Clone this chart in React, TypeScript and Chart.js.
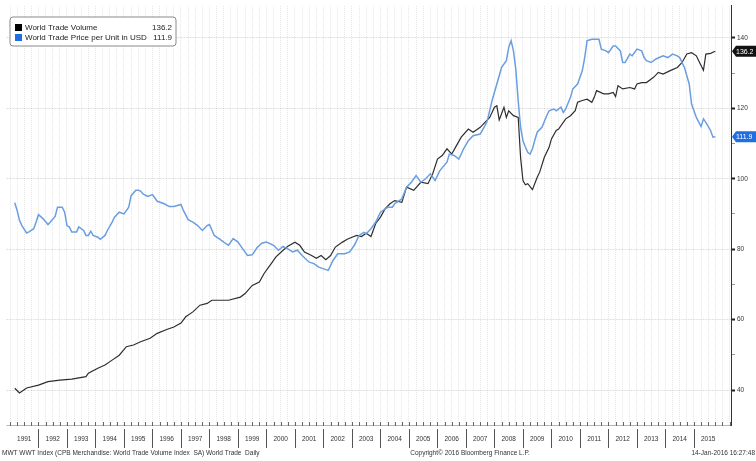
import React, { useEffect, useRef } from 'react';
import { Chart, registerables } from 'chart.js';

Chart.register(...registerables);

// ---- Data ----
const volumeDates = [
  '1991-03','1991-05','1991-08','1992-01','1992-05','1992-10','1993-03','1993-09','1993-10','1994-02',
  '1994-05','1994-08','1994-11','1995-02','1995-05','1995-08','1995-12','1996-03','1996-07','1996-10',
  '1997-01','1997-03','1997-06','1997-09','1997-12','1998-02','1998-07','1998-09','1999-02','1999-04',
  '1999-07','1999-10','1999-12','2000-03','2000-05','2000-08','2000-10','2001-01','2001-03','2001-05',
  '2001-08','2001-10','2001-12','2002-02','2002-04','2002-06','2002-09','2002-11','2003-01','2003-03',
  '2003-05','2003-07','2003-09','2003-11','2004-01','2004-03','2004-05','2004-07','2004-10','2004-12',
  '2005-03','2005-06','2005-09','2005-11','2006-01','2006-03','2006-05','2006-07','2006-09','2006-11',
  '2007-02','2007-04','2007-07','2007-09','2007-11','2008-01','2008-02','2008-03','2008-05','2008-06',
  '2008-07','2008-09','2008-11','2008-12','2009-01','2009-02','2009-03','2009-05','2009-07','2009-08',
  '2009-10','2009-12','2010-01','2010-03','2010-04','2010-07','2010-09','2010-11','2010-12','2011-02',
  '2011-04','2011-06','2011-07','2011-08','2011-11','2012-01','2012-03','2012-04','2012-05','2012-07',
  '2012-10','2012-12','2013-01','2013-03','2013-05','2013-08','2013-10','2013-12','2014-03','2014-06',
  '2014-08','2014-10','2014-12','2015-02','2015-03','2015-05','2015-06','2015-08','2015-09','2015-10',
];
const volumeValues = [
  40.5, 39.2, 40.6, 41.4, 42.4, 42.8, 43.1, 43.8, 44.8, 46.2,
  47.1, 48.5, 49.9, 52.3, 52.8, 53.7, 54.7, 56.1, 57.2, 57.9,
  59.0, 60.8, 62.2, 64.1, 64.6, 65.5, 65.5, 65.5, 66.4, 67.4,
  69.7, 70.7, 73.1, 75.9, 77.8, 79.7, 80.8, 82.0, 81.1, 79.2,
  78.2, 77.4, 78.2, 77.0, 78.2, 80.6, 82.0, 82.8, 83.4, 83.9,
  83.6, 84.5, 83.6, 87.3, 89.1, 91.5, 92.9, 93.8, 93.3, 97.6,
  96.7, 99.0, 98.6, 101.4, 105.6, 106.6, 108.5, 107.0, 109.4, 111.8,
  114.1, 113.2, 114.6, 116.0, 117.4, 120.3, 120.7, 116.7, 120.3, 117.4,
  119.3, 117.9, 117.4, 106.0, 99.5, 98.3, 98.6, 96.9, 100.4, 101.8,
  106.1, 108.9, 111.3, 113.7, 114.1, 117.0, 117.9, 119.3, 121.7, 122.2,
  122.6, 121.7, 123.1, 125.0, 124.1, 124.1, 124.5, 123.3, 126.4, 125.5,
  125.9, 125.5, 126.9, 127.3, 127.3, 128.8, 130.2, 129.7, 130.7, 131.6,
  133.0, 135.4, 135.8, 134.9, 133.5, 130.8, 135.4, 135.6, 135.9, 136.2,
];

const priceDates = [
  '1991-03','1991-04','1991-05','1991-06','1991-08','1991-09','1991-11','1991-12','1992-01','1992-03',
  '1992-05','1992-06','1992-08','1992-09','1992-11','1992-12','1993-01','1993-02','1993-03','1993-05',
  '1993-06','1993-08','1993-09','1993-10','1993-11','1993-12','1994-02','1994-03','1994-05','1994-06',
  '1994-08','1994-09','1994-11','1995-01','1995-03','1995-04','1995-06','1995-07','1995-08','1995-09',
  '1995-11','1996-01','1996-03','1996-06','1996-08','1996-10','1997-01','1997-02','1997-04','1997-06',
  '1997-08','1997-10','1997-12','1998-01','1998-03','1998-05','1998-07','1998-09','1998-11','1999-01',
  '1999-03','1999-05','1999-07','1999-09','1999-11','2000-01','2000-04','2000-06','2000-08','2000-10',
  '2000-12','2001-02','2001-04','2001-07','2001-09','2001-11','2002-02','2002-03','2002-05','2002-07',
  '2002-10','2002-12','2003-02','2003-04','2003-06','2003-07','2003-09','2003-11','2004-01','2004-04',
  '2004-06','2004-07','2004-10','2004-12','2005-02','2005-04','2005-06','2005-08','2005-10','2005-12',
  '2006-02','2006-05','2006-06','2006-08','2006-10','2006-12','2007-02','2007-04','2007-07','2007-09',
  '2007-10','2007-12','2008-02','2008-04','2008-06','2008-07','2008-08','2008-09','2008-10','2008-11',
  '2008-12','2009-01','2009-02','2009-03','2009-04','2009-05','2009-06','2009-07','2009-09','2009-11',
  '2009-12','2010-02','2010-03','2010-05','2010-06','2010-07','2010-09','2010-10','2010-12','2011-02',
  '2011-03','2011-04','2011-06','2011-09','2011-10','2011-12','2012-01','2012-03','2012-04','2012-06',
  '2012-07','2012-08','2012-10','2012-11','2013-01','2013-03','2013-04','2013-05','2013-07','2013-09',
  '2013-12','2014-02','2014-04','2014-06','2014-07','2014-09','2014-11','2014-12','2015-02','2015-04',
  '2015-05','2015-06','2015-08','2015-09','2015-10',
];
const priceValues = [
  93.2, 91.0, 88.2, 86.7, 84.6, 84.9, 85.8, 87.7, 89.8, 88.6,
  87.0, 87.7, 89.3, 91.9, 91.9, 90.5, 86.7, 86.3, 84.9, 84.9,
  86.3, 85.3, 83.9, 83.9, 85.1, 83.9, 83.4, 82.8, 83.9, 85.3,
  87.7, 89.1, 90.5, 90.0, 91.9, 95.2, 96.7, 96.7, 96.5, 95.7,
  95.0, 95.5, 93.6, 92.9, 92.1, 92.1, 92.7, 91.0, 88.4, 87.7,
  86.7, 85.3, 86.7, 87.0, 83.9, 83.0, 82.0, 81.1, 83.0, 82.0,
  80.1, 78.2, 78.4, 80.4, 81.7, 82.0, 81.1, 79.7, 80.8, 80.1,
  79.2, 79.7, 78.2, 76.3, 75.9, 74.9, 74.2, 74.0, 76.8, 78.7,
  78.7, 79.2, 81.1, 83.9, 84.8, 84.4, 85.8, 87.7, 90.5, 91.9,
  91.9, 92.9, 94.3, 97.6, 99.0, 100.9, 99.0, 100.0, 101.4, 99.5,
  102.3, 104.7, 107.0, 106.6, 105.6, 108.5, 110.8, 112.2, 112.7, 115.1,
  116.5, 122.2, 126.9, 131.6, 133.5, 137.3, 139.2, 136.3, 131.0, 122.0,
  114.6, 110.8, 109.0, 107.5, 107.0, 108.5, 111.0, 113.2, 114.6, 117.9,
  119.3, 119.8, 119.3, 120.3, 118.8, 119.8, 123.1, 125.5, 126.9, 130.7,
  134.4, 139.2, 139.6, 139.6, 136.8, 136.3, 135.8, 137.7, 137.7, 136.3,
  133.0, 133.0, 135.4, 134.9, 136.8, 136.3, 134.4, 133.5, 133.0, 134.0,
  134.9, 134.4, 135.4, 134.9, 134.4, 131.6, 126.9, 121.2, 117.4, 114.8,
  117.0, 116.0, 113.7, 111.8, 111.9,
];

const yearLabels = [
  '1991','1992','1993','1994','1995','1996','1997','1998','1999','2000','2001','2002','2003',
  '2004','2005','2006','2007','2008','2009','2010','2011','2012','2013','2014','2015',
];
const yTickValues = [40, 50, 60, 70, 80, 90, 100, 110, 120, 130, 140];
const seriesNames = ['World Trade Volume', 'World Trade Price per Unit in USD'];
const footerLeft = 'MWT WWT Index (CPB Merchandise: World Trade Volume Index  SA) World Trade  Daily';
const footerCenter = 'Copyright\u00a9 2016 Bloomberg Finance L.P.';
const footerRight = '14-Jan-2016 16:27:48';

// ---- Styling ----
const VOLUME_LINE = '#2e2e2e';
const PRICE_LINE = '#6a9ee0';
const VOLUME_SWATCH = '#000000';
const PRICE_SWATCH = '#1f6fe3';
const X_MIN = 1990.875;
const X_MAX = 2016.3;
const Y_MIN = 30.08;
const Y_MAX = 149.07;

function toYear(d: string): number {
  const [y, m] = d.split('-').map(Number);
  return y + (m - 1) / 12;
}

export default function App() {
  const ref = useRef<HTMLCanvasElement>(null);

  useEffect(() => {
    const canvas = ref.current;
    if (!canvas) return;

    const probe = document.createElement('canvas').getContext('2d')!;
    probe.font = '20px monospace';
    const w0 = probe.measureText('World Trade 1991').width;
    probe.font = '20px "Liberation Sans Narrow", monospace';
    const w1 = probe.measureText('World Trade 1991').width;
    const hasNarrow = Math.abs(w0 - w1) > 0.5;
    const smallFamily = hasNarrow ? '"Liberation Sans Narrow", "Liberation Sans", sans-serif' : '"Liberation Sans", sans-serif';
    const smallSize = hasNarrow ? 7.5 : 6.5;
    const smallFont = `${smallSize}px ${smallFamily}`;

    const volumeData = volumeDates.map((d, i) => ({ x: toYear(d), y: volumeValues[i] }));
    const priceData = priceDates.map((d, i) => ({ x: toYear(d), y: priceValues[i] }));
    const lastVolume = volumeValues[volumeValues.length - 1];
    const lastPrice = priceValues[priceValues.length - 1];

    const decor = {
      id: 'decor',
      afterDraw(chart: any) {
        const { ctx, chartArea: ca, scales } = chart;
        const xs = scales.x;
        const ys = scales.y;
        ctx.save();

        // bottom axis line + quarterly tick marks
        ctx.strokeStyle = '#b5b5b5';
        ctx.lineWidth = 1;
        ctx.beginPath();
        ctx.moveTo(ca.left, ca.bottom + 0.5);
        ctx.lineTo(ca.right, ca.bottom + 0.5);
        ctx.stroke();
        ctx.strokeStyle = '#666';
        ctx.beginPath();
        for (let q = 0; q <= 101; q++) {
          const v = 1991 + q / 4;
          if (v > X_MAX) break;
          const px = Math.round(xs.getPixelForValue(v)) + 0.5;
          ctx.moveTo(px, ca.bottom - 3);
          ctx.lineTo(px, ca.bottom + 1);
        }
        ctx.stroke();

        // year separators
        ctx.strokeStyle = '#555';
        ctx.beginPath();
        for (let i = 1; i < yearLabels.length; i++) {
          const px = Math.round(xs.getPixelForValue(1991 + i)) + 0.5;
          ctx.moveTo(px, ca.bottom + 4);
          ctx.lineTo(px, ca.bottom + 23);
        }
        ctx.stroke();

        // legend box
        const lx = 10, ly = 17, lw = 166, lh = 29, r = 3;
        ctx.beginPath();
        ctx.moveTo(lx + r, ly);
        ctx.lineTo(lx + lw - r, ly);
        ctx.quadraticCurveTo(lx + lw, ly, lx + lw, ly + r);
        ctx.lineTo(lx + lw, ly + lh - r);
        ctx.quadraticCurveTo(lx + lw, ly + lh, lx + lw - r, ly + lh);
        ctx.lineTo(lx + r, ly + lh);
        ctx.quadraticCurveTo(lx, ly + lh, lx, ly + lh - r);
        ctx.lineTo(lx, ly + r);
        ctx.quadraticCurveTo(lx, ly, lx + r, ly);
        ctx.closePath();
        ctx.fillStyle = '#ffffff';
        ctx.fill();
        ctx.strokeStyle = '#8a8a8a';
        ctx.lineWidth = 1;
        ctx.stroke();

        const rows = [
          { name: seriesNames[0], value: lastVolume.toFixed(1), color: VOLUME_SWATCH, y: 27.5 },
          { name: seriesNames[1], value: lastPrice.toFixed(1), color: PRICE_SWATCH, y: 37.5 },
        ];
        ctx.font = '8px "Liberation Sans", sans-serif';
        ctx.textBaseline = 'middle';
        rows.forEach((row) => {
          ctx.fillStyle = row.color;
          ctx.fillRect(15, row.y - 3.5, 7, 7);
          ctx.fillStyle = '#222';
          ctx.textAlign = 'left';
          ctx.fillText(row.name, 25, row.y);
          ctx.textAlign = 'right';
          ctx.fillText(row.value, 172, row.y);
        });

        // last-value tags on the right axis
        const tags = [
          { value: lastVolume, bg: '#111111' },
          { value: lastPrice, bg: PRICE_SWATCH },
        ];
        ctx.font = `${smallSize + 0.5}px ${smallFamily}`;
        tags.forEach((t) => {
          const cy = ys.getPixelForValue(t.value);
          const h = 11;
          ctx.beginPath();
          ctx.moveTo(ca.right + 1, cy);
          ctx.lineTo(ca.right + 5, cy - h / 2);
          ctx.lineTo(756, cy - h / 2);
          ctx.lineTo(756, cy + h / 2);
          ctx.lineTo(ca.right + 5, cy + h / 2);
          ctx.closePath();
          ctx.fillStyle = t.bg;
          ctx.fill();
          ctx.fillStyle = '#ffffff';
          ctx.textAlign = 'left';
          ctx.textBaseline = 'middle';
          ctx.fillText(t.value.toFixed(1), ca.right + 5, cy + 0.5);
        });

        // footer
        ctx.fillStyle = '#333';
        ctx.font = smallFont;
        ctx.textBaseline = 'middle';
        ctx.textAlign = 'left';
        ctx.fillText(footerLeft, 2, 453);
        ctx.textAlign = 'center';
        ctx.fillText(footerCenter, 470, 453);
        ctx.textAlign = 'right';
        ctx.fillText(footerRight, 755, 453);

        ctx.restore();
      },
    };

    const chart = new Chart(canvas, {
      type: 'line',
      data: {
        datasets: [
          {
            label: seriesNames[1],
            data: priceData,
            borderColor: PRICE_LINE,
            borderWidth: 1.5,
            pointRadius: 0,
            tension: 0,
            fill: false,
          },
          {
            label: seriesNames[0],
            data: volumeData,
            borderColor: VOLUME_LINE,
            borderWidth: 1.2,
            pointRadius: 0,
            tension: 0,
            fill: false,
          },
        ],
      },
      options: {
        responsive: false,
        animation: false,
        events: [],
        layout: { padding: 0 },
        plugins: {
          legend: { display: false },
          tooltip: { enabled: false },
          title: { display: false },
        },
        scales: {
          x: {
            type: 'linear',
            position: 'bottom',
            min: X_MIN,
            max: X_MAX,
            afterBuildTicks: (s: any) => {
              const t: any[] = [];
              for (let q = 0; q <= 101; q++) {
                const v = 1991 + q / 4;
                if (v <= X_MAX) t.push({ value: v });
              }
              s.ticks = t;
            },
            afterFit: (s: any) => {
              s.height = 36;
            },
            grid: {
              color: 'rgba(0,0,0,0.10)',
              lineWidth: 1,
              drawTicks: false,
            },
            border: { display: false, dash: [1, 1] },
            ticks: {
              autoSkip: false,
              maxRotation: 0,
              minRotation: 0,
              padding: 10,
              color: '#333',
              font: { family: smallFamily, size: smallSize },
              callback: (value: any) => {
                const v = Number(value);
                if (v % 1 === 0.5) {
                  const i = Math.floor(v) - 1991;
                  return yearLabels[i] ?? '';
                }
                return '';
              },
            },
          },
          y: {
            type: 'linear',
            position: 'right',
            min: Y_MIN,
            max: Y_MAX,
            afterBuildTicks: (s: any) => {
              s.ticks = yTickValues.map((v) => ({ value: v }));
            },
            afterFit: (s: any) => {
              s.width = 25;
            },
            grid: {
              color: (c: any) => (c.tick && c.tick.value % 20 === 0 ? 'rgba(0,0,0,0.13)' : 'rgba(0,0,0,0)'),
              tickColor: (c: any) => (c.tick && c.tick.value % 20 === 0 ? '#222' : '#999'),
              tickWidth: (c: any) => (c.tick && c.tick.value % 20 === 0 ? 2 : 1),
              tickLength: 4,
              drawTicks: true,
            },
            border: { display: true, color: '#333', width: 1, dash: [2, 1] },
            ticks: {
              padding: 2,
              color: '#333',
              font: { family: smallFamily, size: smallSize },
              callback: (value: any) => (Number(value) % 20 === 0 ? String(value) : ''),
            },
          },
        },
      } as any,
      plugins: [decor],
    });

    return () => {
      chart.destroy();
    };
  }, []);

  return (
    <div style={{ position: 'fixed', left: 0, top: 0, width: 756, height: 461, background: '#fff' }}>
      <canvas ref={ref} width={756} height={461} style={{ display: 'block' }} />
    </div>
  );
}
